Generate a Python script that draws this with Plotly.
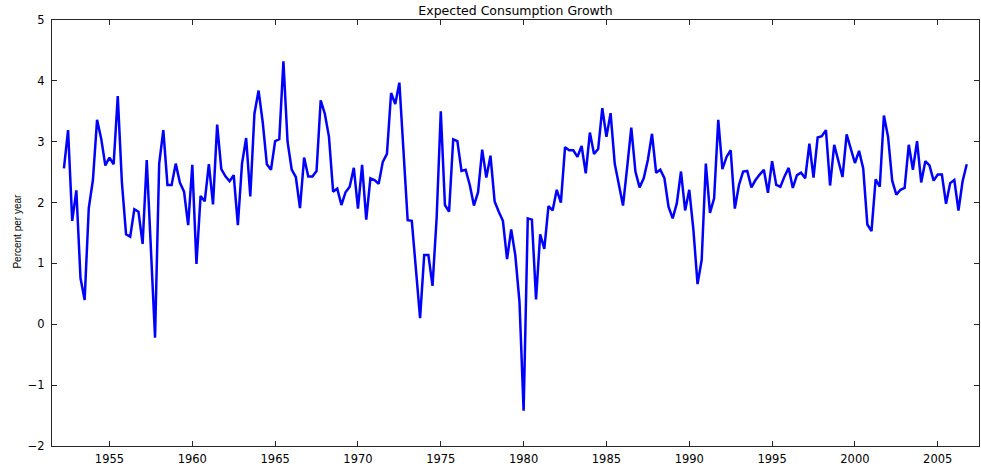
import plotly.graph_objects as go

# Quarterly observations starting 1952 Q2 (plotted at 1952.25), step 0.25 year
start_year = 1952.25
step = 0.25
growth = [
    2.56, 3.19, 1.70, 2.20, 0.76, 0.40, 1.91, 2.37, 3.36, 3.05,
    2.61, 2.74, 2.63, 3.75, 2.33, 1.48, 1.44, 1.89, 1.85, 1.32,
    2.70, 1.25, -0.22, 2.64, 3.19, 2.29, 2.29, 2.64, 2.33, 2.18,
    1.63, 2.62, 0.99, 2.11, 2.02, 2.63, 1.97, 3.28, 2.55, 2.43,
    2.35, 2.45, 1.63, 2.64, 3.06, 2.10, 3.46, 3.84, 3.32, 2.63,
    2.54, 3.01, 3.04, 4.32, 3.00, 2.54, 2.42, 1.91, 2.74, 2.43,
    2.43, 2.52, 3.68, 3.46, 3.08, 2.18, 2.23, 1.96, 2.17, 2.26,
    2.57, 1.90, 2.62, 1.72, 2.40, 2.37, 2.31, 2.67, 2.80, 3.80,
    3.62, 3.97, 2.85, 1.71, 1.70, 0.91, 0.10, 1.14, 1.14, 0.63,
    1.75, 3.50, 1.96, 1.85, 3.04, 3.01, 2.52, 2.54, 2.29, 1.95,
    2.17, 2.87, 2.41, 2.77, 2.02, 1.85, 1.70, 1.07, 1.56, 1.13,
    0.37, -1.42, 1.74, 1.72, 0.41, 1.48, 1.24, 1.94, 1.87, 2.21,
    2.00, 2.91, 2.86, 2.86, 2.75, 2.93, 2.48, 3.15, 2.80, 2.88,
    3.55, 3.08, 3.47, 2.64, 2.29, 1.95, 2.58, 3.23, 2.51, 2.25,
    2.40, 2.70, 3.13, 2.49, 2.54, 2.40, 1.93, 1.74, 1.99, 2.51,
    1.87, 2.21, 1.55, 0.66, 1.06, 2.64, 1.83, 2.07, 3.36, 2.55,
    2.75, 2.86, 1.90, 2.29, 2.51, 2.52, 2.25, 2.37, 2.46, 2.54,
    2.16, 2.68, 2.29, 2.26, 2.43, 2.57, 2.24, 2.45, 2.49, 2.40,
    2.97, 2.41, 3.07, 3.09, 3.19, 2.28, 2.95, 2.70, 2.42, 3.12,
    2.89, 2.65, 2.85, 2.56, 1.64, 1.53, 2.38, 2.26, 3.43, 3.08,
    2.36, 2.13, 2.21, 2.24, 2.95, 2.54, 3.01, 2.33, 2.68, 2.61,
    2.36, 2.46, 2.46, 1.98, 2.32, 2.37, 1.87, 2.35, 2.63,
]
years = [start_year + step * k for k in range(len(growth))]

x_ticks = [1955, 1960, 1965, 1970, 1975, 1980, 1985, 1990, 1995, 2000, 2005]
y_ticks = [-2, -1, 0, 1, 2, 3, 4, 5]

FONT = "DejaVu Sans"

fig = go.Figure()
fig.add_trace(go.Scatter(
    x=years, y=growth, mode="lines",
    line=dict(color="#0000FF", width=2.5),
    showlegend=False, hoverinfo="x+y",
))

axis_common = dict(
    showgrid=False, zeroline=False, showline=True, linecolor="#262626",
    linewidth=1, mirror="ticks", ticks="inside", ticklen=5, tickwidth=1,
    tickcolor="#262626", tickfont=dict(family=FONT, size=11.5, color="black"),
)

fig.update_layout(
    width=981, height=467,
    margin=dict(l=52, r=1, t=20, b=16),
    paper_bgcolor="white", plot_bgcolor="white",
    title=dict(text="Expected Consumption Growth", x=0.5, xref="paper", xanchor="center",
               y=1 - 11 / 467, yref="container", yanchor="middle",
               font=dict(family=FONT, size=12.5, color="black")),
    xaxis=dict(range=[1951.53, 2007.49], tickvals=x_ticks,
               ticktext=[str(v) for v in x_ticks], ticklabelstandoff=2, **axis_common),
    yaxis=dict(range=[-2, 5], tickvals=y_ticks, ticklabelstandoff=4, **axis_common),
    annotations=[dict(
        text="Percent per year", textangle=-90, xref="paper", yref="paper",
        x=-0.037, y=0.505, xanchor="center", yanchor="middle", showarrow=False,
        font=dict(family="Liberation Sans", size=10, color="black"),
    )],
)

fig.write_html("out.html", config={"displayModeBar": False},
               post_script="document.body.style.margin='0px';")
